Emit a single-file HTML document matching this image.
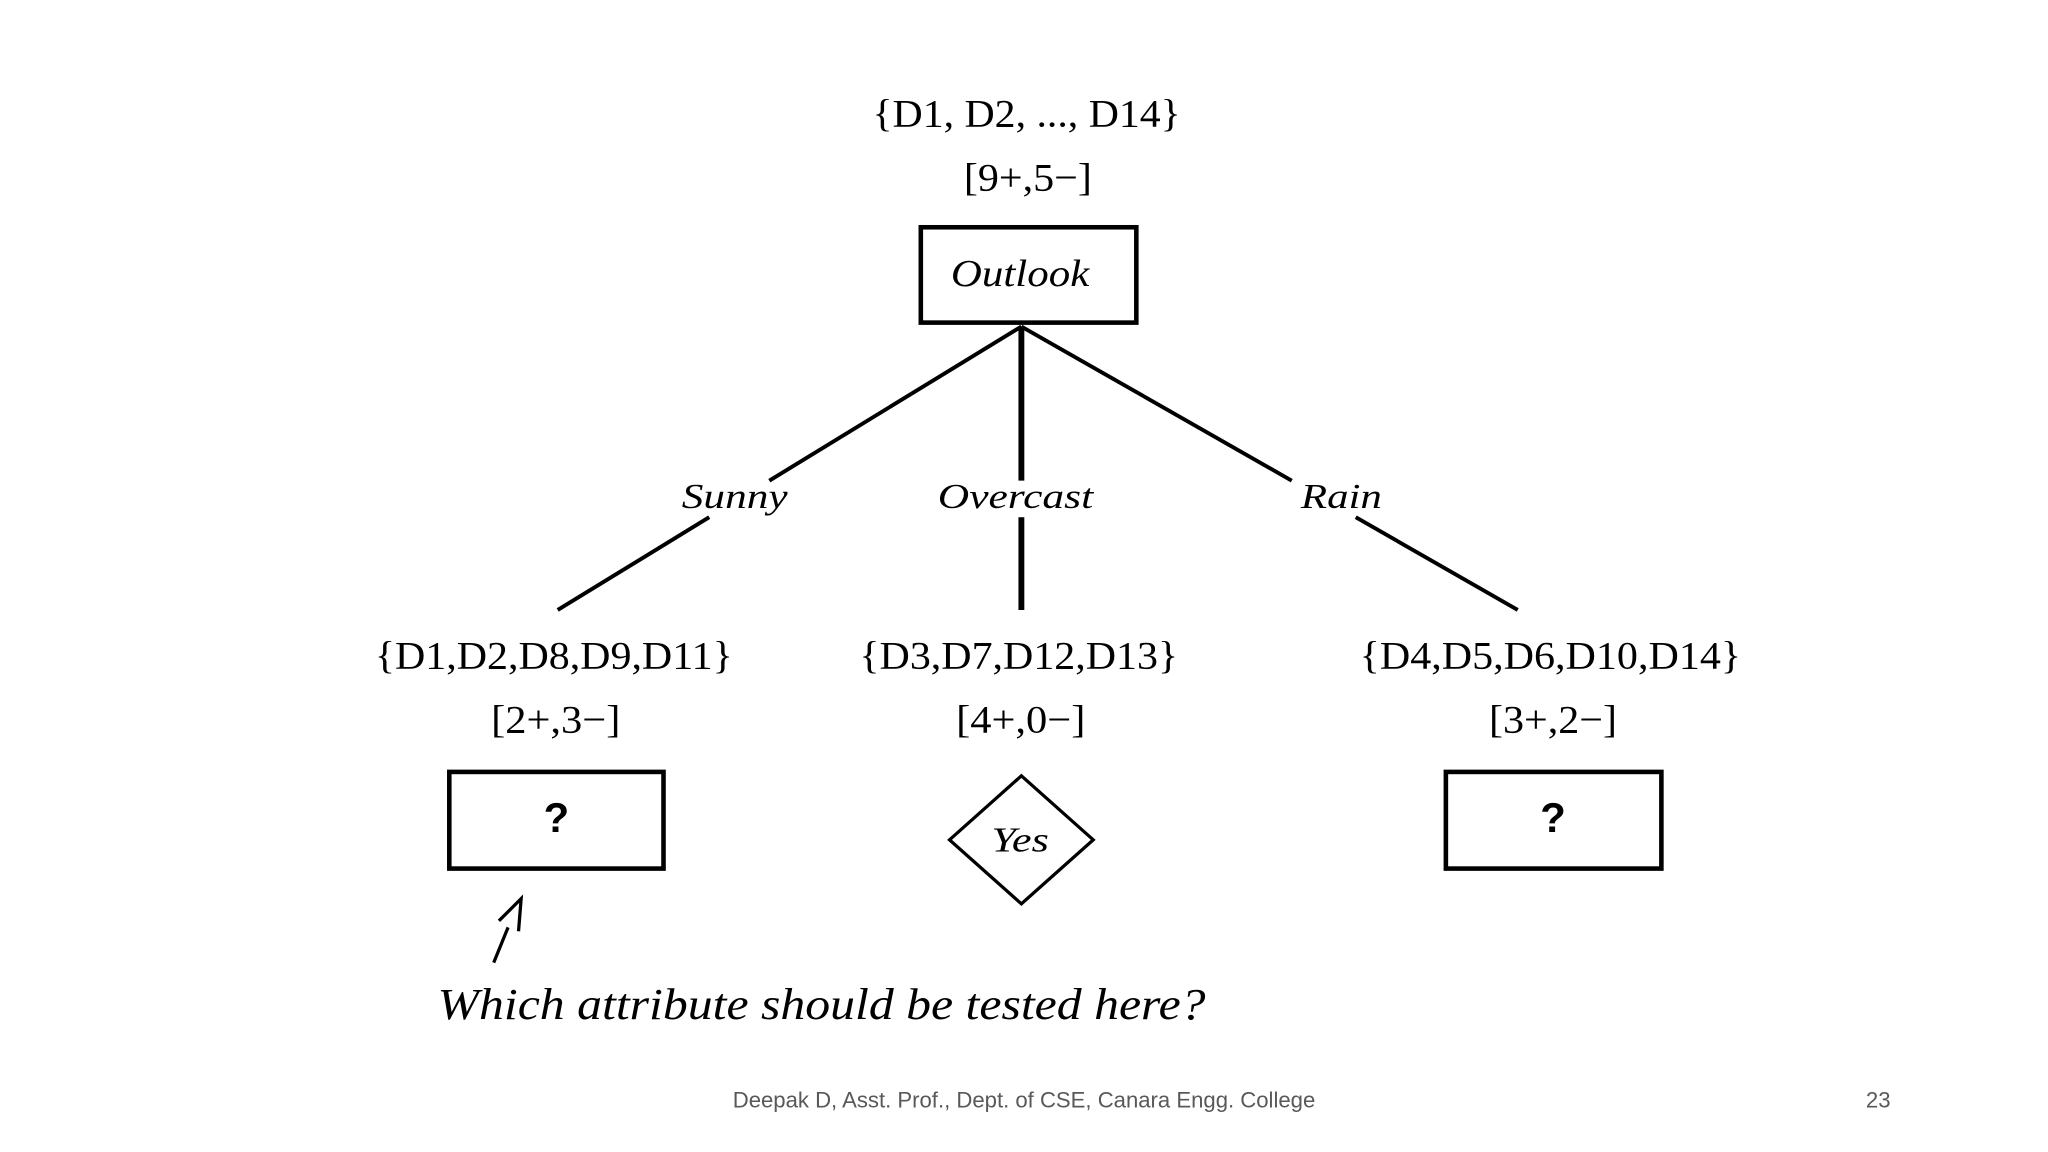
<!DOCTYPE html>
<html><head><meta charset="utf-8"><style>
html,body{margin:0;padding:0;background:#fff;}
svg{display:block;}
.s{font-family:"Liberation Serif",serif;fill:#000;}
.i{font-family:"Liberation Serif",serif;font-style:italic;fill:#000;}
</style></head><body>
<svg width="2048" height="1152" viewBox="0 0 1568 882" xmlns="http://www.w3.org/2000/svg">
<rect width="1568" height="882" fill="#fff"/>
<g lengthAdjust="spacingAndGlyphs">
<text class="s" x="668" y="97" font-size="30" textLength="236" lengthAdjust="spacingAndGlyphs">{D1, D2, ..., D14}</text>
<text class="s" x="738" y="146" font-size="30" textLength="98" lengthAdjust="spacingAndGlyphs">[9+,5−]</text>
<text class="i" x="728" y="219" font-size="29" textLength="106" lengthAdjust="spacingAndGlyphs">Outlook</text>
<text class="i" x="522" y="389" font-size="27" textLength="81" lengthAdjust="spacingAndGlyphs">Sunny</text>
<text class="i" x="718" y="389" font-size="27" textLength="119" lengthAdjust="spacingAndGlyphs">Overcast</text>
<text class="i" x="996" y="389" font-size="27" textLength="62" lengthAdjust="spacingAndGlyphs">Rain</text>
<text class="s" x="287" y="512" font-size="30" textLength="274" lengthAdjust="spacingAndGlyphs">{D1,D2,D8,D9,D11}</text>
<text class="s" x="658" y="512" font-size="30" textLength="244" lengthAdjust="spacingAndGlyphs">{D3,D7,D12,D13}</text>
<text class="s" x="1041" y="512" font-size="30" textLength="292" lengthAdjust="spacingAndGlyphs">{D4,D5,D6,D10,D14}</text>
<text class="s" x="376" y="561" font-size="30" textLength="99" lengthAdjust="spacingAndGlyphs">[2+,3−]</text>
<text class="s" x="732" y="561" font-size="30" textLength="99" lengthAdjust="spacingAndGlyphs">[4+,0−]</text>
<text class="s" x="1140" y="561" font-size="30" textLength="98" lengthAdjust="spacingAndGlyphs">[3+,2−]</text>
<text class="i" x="759" y="652" font-size="27" textLength="44" lengthAdjust="spacingAndGlyphs">Yes</text>
<text class="i" x="335" y="780" font-size="34" textLength="588" lengthAdjust="spacingAndGlyphs">Which attribute should be tested here?</text>
</g>
<rect x="705" y="174" width="165" height="73" fill="none" stroke="#000" stroke-width="3.5"/>
<g stroke="#000" stroke-width="3" fill="none">
<line x1="782" y1="250" x2="589" y2="368"/>
<line x1="543" y1="396" x2="427" y2="467"/>
<line x1="782" y1="250" x2="989" y2="368"/>
<line x1="1038" y1="396" x2="1162" y2="467"/>
<line x1="782" y1="250" x2="782" y2="368" stroke-width="4.5"/>
<line x1="782" y1="396" x2="782" y2="467" stroke-width="4.5"/>
</g>
<rect x="344" y="591" width="164" height="74" fill="none" stroke="#000" stroke-width="3.5"/>
<rect x="1107" y="591" width="165" height="74" fill="none" stroke="#000" stroke-width="3.5"/>
<text x="426" y="637" font-size="32" font-weight="bold" text-anchor="middle" font-family="Liberation Sans,sans-serif">?</text>
<text x="1189" y="637" font-size="32" font-weight="bold" text-anchor="middle" font-family="Liberation Sans,sans-serif">?</text>
<polygon points="782,594 837,643 782,692 727,643" fill="none" stroke="#000" stroke-width="2.5"/>
<g stroke="#000" stroke-width="2.5" fill="none">
<line x1="378" y1="737" x2="389" y2="710"/>
<polyline points="382,705 399,688 397,713"/>
</g>
<text x="784" y="848" font-size="17" text-anchor="middle" fill="#595959" font-family="Liberation Sans,sans-serif" textLength="446" lengthAdjust="spacingAndGlyphs">Deepak D, Asst. Prof., Dept. of CSE, Canara Engg. College</text>
<text x="1438" y="848" font-size="17" text-anchor="middle" fill="#595959" font-family="Liberation Sans,sans-serif">23</text>
</svg>
</body></html>
